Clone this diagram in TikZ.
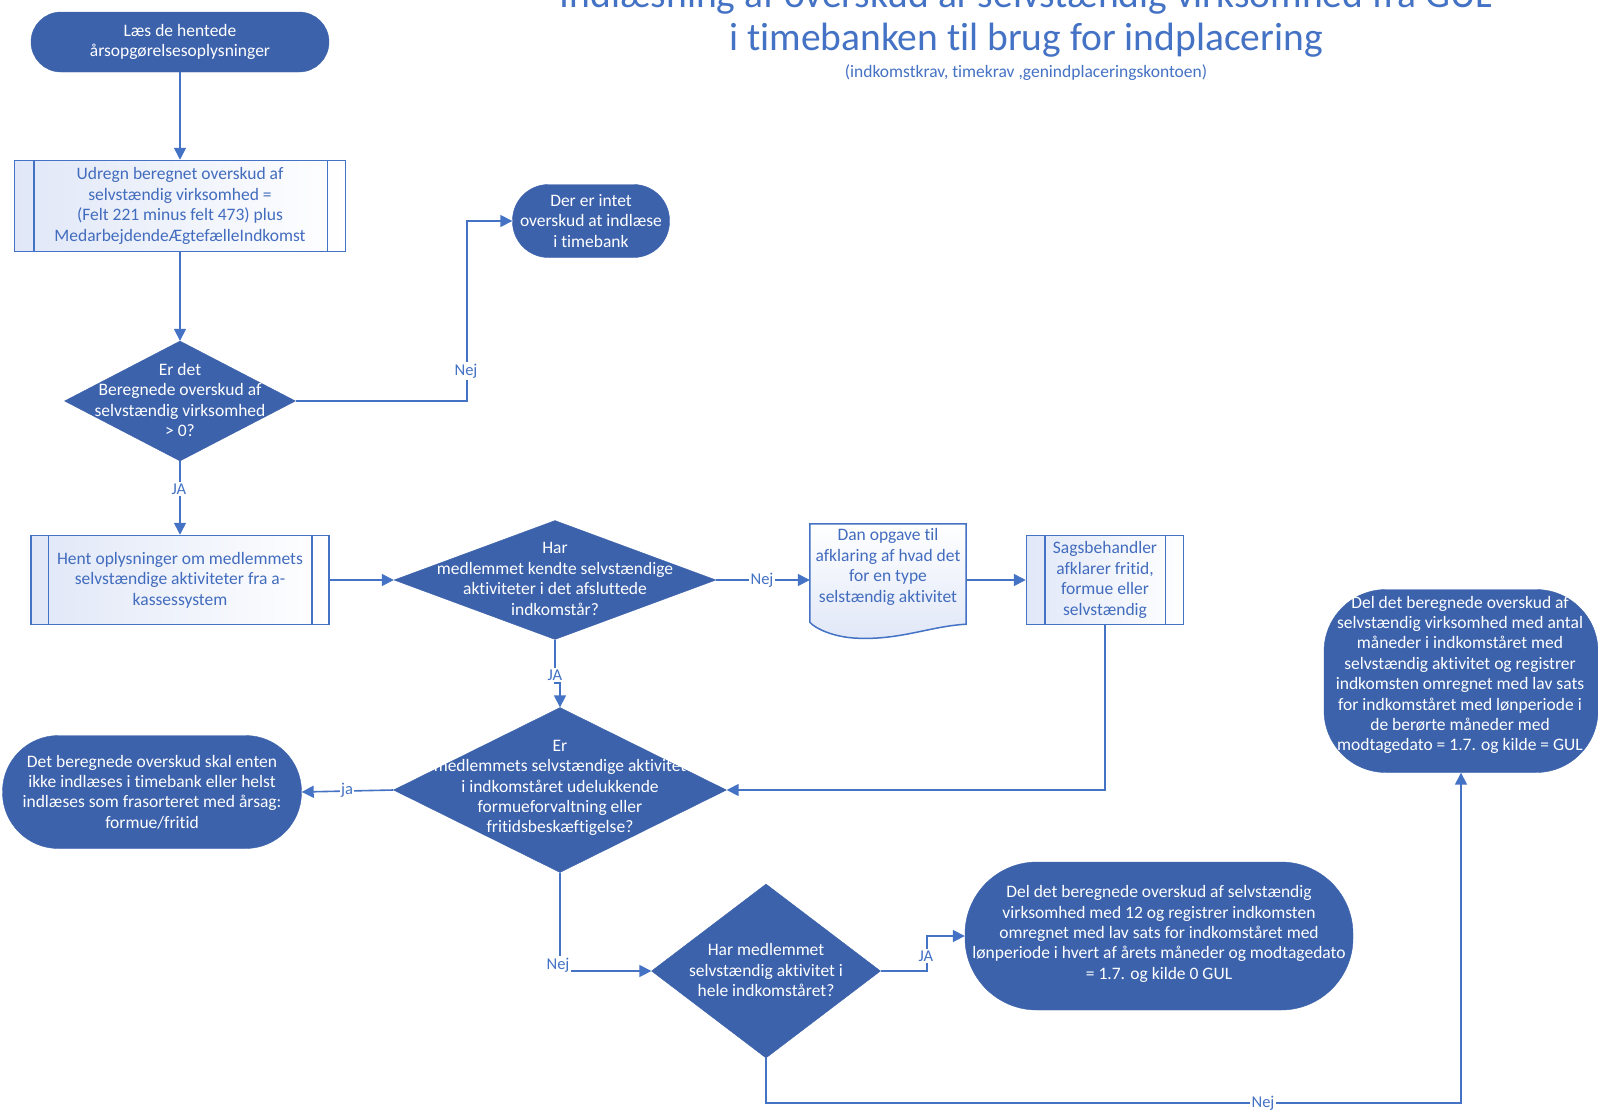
\documentclass[tikz,border=0pt]{standalone}
\usepackage{fontspec}
\setmainfont[Ligatures=CommonOff]{Carlito}
\usetikzlibrary{shapes.geometric,arrows.meta,calc}
\definecolor{dk}{RGB}{60,98,172}
\definecolor{ln}{RGB}{68,114,196}
\definecolor{tx}{RGB}{66,108,190}
\definecolor{lt}{RGB}{224,231,247}
\begin{document}
\begin{tikzpicture}[x=1pt,y=-1pt,
  every node/.style={font=\fontsize{17.5}{20.4}\selectfont, align=center},
  term/.style={rectangle, fill=dk, draw=dk, text=white, inner sep=0},
  proc/.style={rectangle, draw=ln, line width=1.5pt, left color=lt, right color=white, text=tx, inner sep=0},
  dia/.style={diamond, fill=dk, draw=dk, inner sep=0},
  wtxt/.style={text=white, inner sep=0},
  arr/.style={draw=ln, line width=1.6pt, -{Triangle[length=12pt,width=12pt]}},
  lbl/.style={fill=white, text=ln, inner sep=1.5pt, font=\fontsize{16.5}{18}\selectfont},
  ttl/.style={text=ln, font=\fontsize{39.5}{44}\selectfont},
]
\useasboundingbox (0,0) rectangle (1598,1112);
\fill[white] (0,0) rectangle (1598,1112);

% title
\node[ttl] (t1) at (1026,-3) {Indlæsning af overskud af selvstændig virksomhed fra GUL};
\node[ttl] (t2) at (1026,40) {i timebanken til brug for indplacering};
\node[text=ln, font=\fontsize{17.5}{20}\selectfont] (t3) at (1026,73) {(indkomstkrav, timekrav ,genindplaceringskontoen)};

% start
\node[term, minimum width=298pt, minimum height=60pt, rounded corners=30pt] (start) at (180,42) {Læs de hentede\\årsopgørelsesoplysninger};

% process 1
\node[proc, minimum width=331pt, minimum height=91pt] (p1) at (180,206) {Udregn beregnet overskud af\\selvstændig virksomhed =\\(Felt 221 minus felt 473) plus\\MedarbejdendeÆgtefælleIndkomst};
\draw[ln, line width=1.5pt] ($(p1.north west)+(20,0)$) -- ($(p1.south west)+(20,0)$);
\draw[ln, line width=1.5pt] ($(p1.north east)+(-19,0)$) -- ($(p1.south east)+(-19,0)$);

% intet
\node[term, minimum width=157pt, minimum height=73pt, rounded corners=36pt] (intet) at (591,221) {Der er intet\\overskud at indlæse\\i timebank};

% diamond 1
\node[dia, minimum width=231pt, minimum height=120pt] (d1) at (180,401) {};
\node[wtxt] (d1t) at (180,400) {Er det\\Beregnede overskud af\\selvstændig virksomhed\\> 0?};

% process 2
\node[proc, minimum width=298pt, minimum height=89pt] (p2) at (180,580) {Hent oplysninger om medlemmets\\selvstændige aktiviteter fra a-\\kassessystem};
\draw[ln, line width=1.5pt] ($(p2.north west)+(18,0)$) -- ($(p2.south west)+(18,0)$);
\draw[ln, line width=1.5pt] ($(p2.north east)+(-18,0)$) -- ($(p2.south east)+(-18,0)$);

% diamond 2
\node[dia, minimum width=322pt, minimum height=119pt] (d2) at (555,580) {};
\node[wtxt] (d2t) at (555,579) {Har\\medlemmet kendte selvstændige\\aktiviteter i det afsluttede\\indkomstår?};

% document
\node[minimum width=156pt, minimum height=100pt, inner sep=0] (doc) at (888,574) {};
\path[draw=ln, line width=1.5pt, top color=white, bottom color=lt]
  (doc.north west) -- (doc.north east) -- (doc.south east)
  .. controls ($(doc.south east)+(-36,2)$) and ($(doc.south east)+(-66,16)$) .. ($(doc.south)+(-31,14)$)
  .. controls ($(doc.south)+(-55,13)$) and ($(doc.south west)+(5,4)$) .. ($(doc.south west)+(0,-2)$)
  -- cycle;
\node[text=tx, inner sep=0] (doct) at (888,567) {Dan opgave til\\afklaring af hvad det\\for en type\\selstændig aktivitet};

% process 3
\node[proc, minimum width=157pt, minimum height=89pt] (p3) at (1105,580) {Sagsbehandler\\afklarer fritid,\\formue eller\\selvstændig};
\draw[ln, line width=1.5pt] ($(p3.north west)+(19,0)$) -- ($(p3.south west)+(19,0)$);
\draw[ln, line width=1.5pt] ($(p3.north east)+(-19,0)$) -- ($(p3.south east)+(-19,0)$);

% diamond 3
\node[dia, minimum width=333pt, minimum height=165pt] (d3) at (560,790) {};
\node[wtxt] (d3t) at (560,788) {Er\\medlemmets selvstændige aktivitet\\i indkomståret udelukkende\\formueforvaltning eller\\fritidsbeskæftigelse?};

% left terminal
\node[term, minimum width=299pt, minimum height=113pt, rounded corners=56pt] (tl) at (152,792) {Det beregnede overskud skal enten\\ikke indlæses i timebank eller helst\\indlæses som frasorteret med årsag:\\formue/fritid};

% diamond 4
\node[dia, minimum width=229pt, minimum height=174pt] (d4) at (766,971) {};
\node[wtxt] (d4t) at (766,970) {Har medlemmet\\selvstændig aktivitet i\\hele indkomståret?};

% terminal 12
\node[term, minimum width=388pt, minimum height=148pt, rounded corners=72pt] (t12) at (1159,936) {};
\node[wtxt] (t12t) at (1159,934) {Del det beregnede overskud af selvstændig\\virksomhed med 12 og registrer indkomsten\\omregnet med lav sats for indkomståret med\\lønperiode i hvert af årets måneder og modtagedato\\= 1.7. og kilde 0 GUL};

% right terminal
\node[term, minimum width=274pt, minimum height=183pt, rounded corners=62pt] (tr) at (1461,681) {};
\node[wtxt] (trt) at (1460,675) {Del det beregnede overskud af\\selvstændig virksomhed med antal\\måneder i indkomståret med\\selvstændig aktivitet og registrer\\indkomsten omregnet med lav sats\\for indkomståret med lønperiode i\\de berørte måneder med\\modtagedato = 1.7. og kilde = GUL};

% connectors
\draw[arr] (start.south -| p1.north) -- (p1.north);
\draw[arr] (p1.south) -- (d1.north);
\coordinate (c1) at (467,401);
\draw[arr] (d1.east) -- (c1) |- (intet.west);
\node[lbl] (l1) at (466,371) {Nej};
\draw[arr] (d1.south) -- (p2.north);
\node[lbl] (l2) at (179,489) {JA};
\draw[arr] (p2.east) -- (d2.west);
\draw[arr] (d2.east) -- (d2.east -| doc.west);
\node[lbl] (l3) at (762,580) {Nej};
\draw[arr] (p3.west -| doc.east) -- (p3.west);
\draw[arr] (p3.south) |- (d3.east);
\coordinate (c2) at (555,683);
\draw[arr] (d2.south) -- (c2) -| (d3.north);
\node[lbl] (l4) at (555,675) {JA};
\draw[arr] (d3.west) -- (tl.east);
\node[lbl] (l5) at (347,790) {ja};
\draw[arr] (d3.south) |- (d4.west);
\node[lbl] (l6) at (558,965) {Nej};
\coordinate (c3) at (927,971);
\draw[arr] (d4.east) -- (c3) |- (t12.west);
\node[lbl] (l7) at (926,956) {JA};
\coordinate (c4) at (766,1103);
\draw[arr] (d4.south) -- (c4) -| (tr.south);
\node[lbl] (l8) at (1263,1103) {Nej};
\end{tikzpicture}
\end{document}
